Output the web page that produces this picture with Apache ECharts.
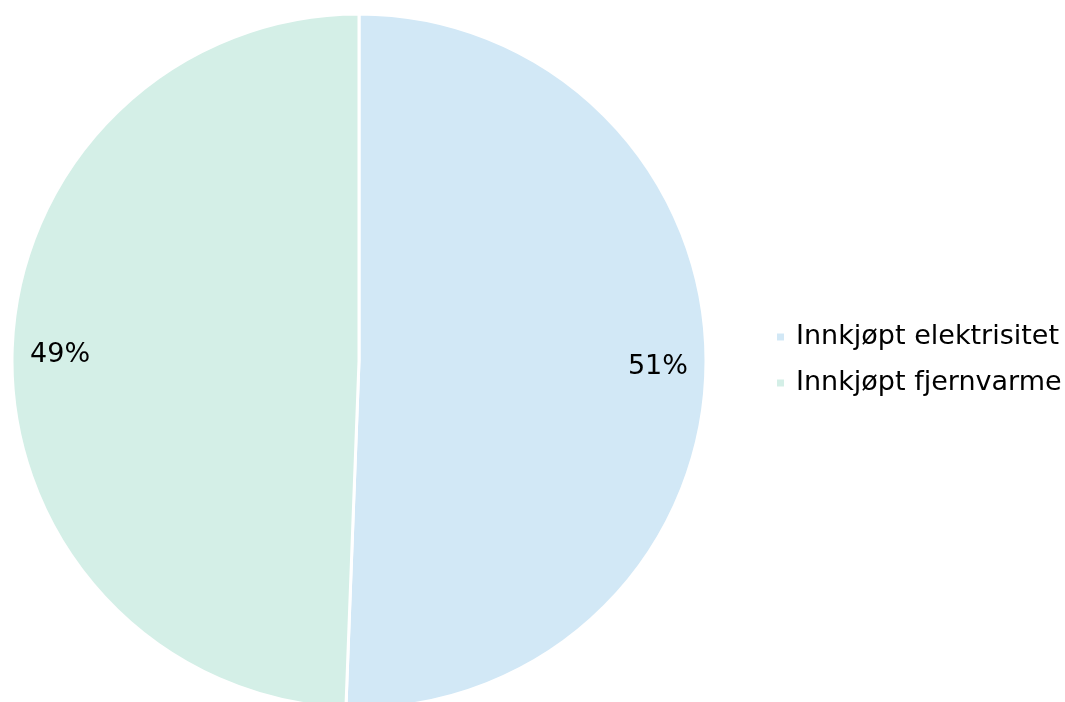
<!DOCTYPE html>
<html>
<head>
<meta charset="utf-8">
<script src="https://cdn.jsdelivr.net/npm/echarts@6/dist/echarts.min.js"></script>
<style>
  html, body { margin: 0; padding: 0; background: #fff; }
  #chart { width: 1065px; height: 702px; }
</style>
</head>
<body>
<div id="chart"></div>
<script>
// === Données ===
const categories = ['Innkjøpt elektrisitet', 'Innkjøpt fjernvarme'];
const values = [50.6, 49.4];
const colors = ['#d2e8f6', '#d4efe7'];

const pieData = categories.map((name, i) => ({ name, value: values[i], itemStyle: { color: colors[i] } }));

const chart = echarts.init(document.getElementById('chart'));
const font = 'DejaVu Sans, Verdana, sans-serif';

chart.setOption({
    animation: false,
    legend: {
        orient: 'vertical',
        left: 770,
        top: 318,
        icon: 'rect',
        itemWidth: 9,
        itemHeight: 9,
        itemGap: 18,
        data: categories,
        textStyle: { fontFamily: font, fontSize: 27, color: '#000', lineHeight: 28, padding: [0, 0, 0, 6] }
    },
    series: [
        {
            // le camembert lui-même
            type: 'pie',
            center: [359, 361],
            radius: [0, 347],
            startAngle: 90,
            clockwise: true,
            data: pieData,
            itemStyle: { borderColor: '#fff', borderWidth: 3 },
            label: { show: false },
            labelLine: { show: false },
            silent: true
        },
        {
            // anneau invisible juste pour placer les étiquettes près du bord
            type: 'pie',
            center: [359, 361],
            radius: [245, 347],
            startAngle: 90,
            clockwise: true,
            data: categories.map((name, i) => ({ name, value: values[i] })),
            itemStyle: { color: 'rgba(0,0,0,0)' },
            label: {
                show: true,
                position: 'inside',
                fontFamily: font,
                fontSize: 27,
                color: '#000',
                formatter: p => Math.round(p.percent) + '%'
            },
            labelLine: { show: false },
            silent: true
        }
    ]
});
</script>
</body>
</html>
